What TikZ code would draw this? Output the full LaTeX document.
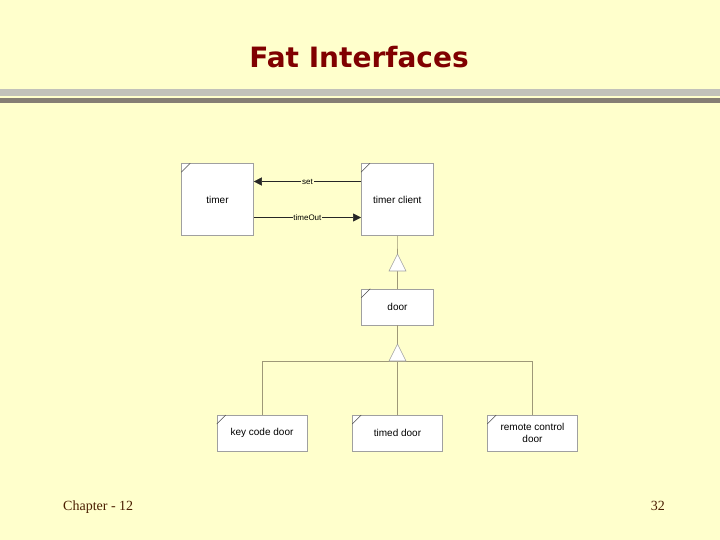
\documentclass[tikz,border=0pt]{standalone}
\usepackage{fontspec}
\setmainfont{Liberation Sans}
\newfontfamily\titlefont{DejaVu Sans}
\newfontfamily\seriffont{Liberation Serif}
\usetikzlibrary{arrows.meta}
\definecolor{bg}{HTML}{FFFFCC}
\definecolor{titlered}{HTML}{800000}
\definecolor{footbrown}{HTML}{4A1E00}
\definecolor{boxgray}{HTML}{A0A0A0}
\definecolor{linkolive}{HTML}{9E9878}
\definecolor{barAedge}{HTML}{C2C2BA}
\definecolor{barAmid}{HTML}{EBEBE3}
\definecolor{barBedge}{HTML}{857E74}
\definecolor{barBmid}{HTML}{D6D2C8}
\tikzset{
  umlbox/.style={draw=boxgray, fill=white, line width=0.6pt, inner sep=0pt,
    minimum width=72pt, minimum height=72pt, font=\fontsize{10}{12}\selectfont, align=center},
  widebox/.style={umlbox, minimum width=90pt, minimum height=36pt},
  msg/.style={draw=black!85, line width=0.5pt, -{Triangle[length=8pt,width=8pt]}},
  msglabel/.style={fill=bg, inner sep=0.8pt, font=\fontsize{8}{9}\selectfont},
  link/.style={draw=linkolive, line width=0.6pt},
  tri/.style={draw=boxgray, fill=white, line width=0.6pt, line join=miter},
  corner/.style={draw=black!70, line width=0.5pt}
}
\newcommand{\foldcorner}[1]{\draw[corner] ([yshift=-9pt]#1.north west) -- ([xshift=9pt]#1.north west);}
\begin{document}
\begin{tikzpicture}[x=1pt,y=-1pt]
\fill[bg] (0,0) rectangle (720,540);
\useasboundingbox (0,0) rectangle (720,540);
% title
\node[font=\titlefont\bfseries\fontsize{28}{32}\selectfont, text=titlered] (title) at (359,57) {Fat Interfaces};
% bars
\shade[left color=barAedge, middle color=barAmid, right color=barAedge] (0,90) rectangle (720,96);
\shade[left color=barBedge, middle color=barBmid, right color=barBedge] (0,99) rectangle (720,103);
% boxes
\node[umlbox] (timer) at (217.5,199.5) {timer};
\node[umlbox] (client) at (397.3,199.5) {timer client};
\node[umlbox, minimum height=36pt] (door) at (397.5,307) {door};
\node[widebox] (keycode) at (262,433.3) {key code door};
\node[widebox] (timed) at (397.5,433.3) {timed door};
\node[widebox] (remote) at (532.5,433.3) {remote control\\door};
\foreach \n in {timer,client,door,keycode,timed,remote}{\foldcorner{\n}}
% messages
\draw[msg] ([yshift=18pt]client.west) -- node[msglabel]{set} ([yshift=18pt]timer.east);
\draw[msg] ([yshift=-18pt]timer.east) -- node[msglabel]{timeOut} ([yshift=-18pt]client.west);
% inheritance triangles
\coordinate (apexA) at (397.5,254);
\coordinate (baseA) at (397.5,271);
\coordinate (apexB) at (397.5,344);
\coordinate (baseB) at (397.5,361);
\draw[link] (client.south) -- (apexA);
\draw[link] (baseA) -- (door.north);
\draw[link] (door.south) -- (apexB);
\coordinate (barL) at (keycode.north |- baseB);
\coordinate (barR) at (remote.north |- baseB);
\draw[link] (barL) -- (barR);
\draw[link] (barL) -- (keycode.north);
\draw[link] (baseB) -- (timed.north);
\draw[link] (barR) -- (remote.north);
\draw[tri] (apexA) -- ++(8.5,17) -- ++(-17,0) -- cycle;
\draw[tri] (apexB) -- ++(8.5,17) -- ++(-17,0) -- cycle;
% footer
\node[font=\seriffont\fontsize{14}{16}\selectfont, text=footbrown, anchor=base west, inner sep=0pt] (chapter) at (63,510) {Chapter - 12};
\node[font=\seriffont\fontsize{14}{16}\selectfont, text=footbrown, anchor=base east, inner sep=0pt] (page) at (665,510) {32};
\end{tikzpicture}
\end{document}
